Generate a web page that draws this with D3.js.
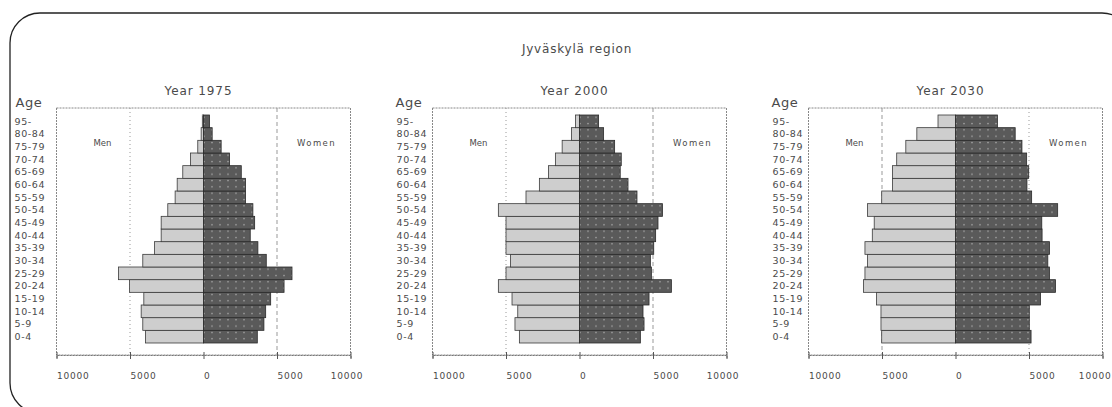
<!DOCTYPE html>
<html lang="en">
<head>
<meta charset="utf-8">
<title>Jyväskylä region</title>
<script src="https://d3js.org/d3.v7.min.js"></script>
<style>
body { margin: 0; background: #fff; }
text { font-family: "DejaVu Sans", sans-serif; fill: #4a4a4a; }
.agelab { font-size: 9.5px; letter-spacing: 0.6px; }
.tick text { font-size: 9px; letter-spacing: 0.8px; }
</style>
</head>
<body>
<div id="chart"></div>
<script>

// age groups, bottom to top
var ages = ["0-4", "5-9", "10-14", "15-19", "20-24", "25-29", "30-34", "35-39", "40-44",
            "45-49", "50-54", "55-59", "60-64", "65-69", "70-74", "75-79", "80-84", "95-"];

var years = ["1975", "2000", "2030"];

var men1975   = [3950, 4130, 4240, 4060, 5030, 5780, 4130, 3330, 2880, 2880, 2430, 1930, 1790, 1410, 890, 390, 160, 80];
var women1975 = [3660, 4110, 4230, 4570, 5480, 6020, 4270, 3700, 3180, 3480, 3360, 2860, 2860, 2570, 1770, 1200, 590, 410];

var men2000   = [4090, 4390, 4200, 4590, 5520, 5000, 4700, 5000, 5000, 5000, 5520, 3640, 2730, 2110, 1640, 1180, 550, 270];
var women2000 = [4140, 4390, 4320, 4730, 6250, 4890, 4820, 5050, 5180, 5340, 5640, 3910, 3300, 2770, 2840, 2390, 1640, 1300];

var men2030   = [5020, 5070, 5070, 5370, 6260, 6160, 5980, 6160, 5660, 5530, 5980, 5020, 4290, 4290, 4000, 3380, 2630, 1190];
var women2030 = [5140, 5020, 5020, 5780, 6800, 6390, 6280, 6390, 5890, 5870, 6950, 5180, 4860, 4980, 4840, 4520, 4060, 2850];

var tickVals = [-10000, -5000, 0, 5000, 10000];
var tickLabels = ["10000", "5000", "0", "5000", "10000"];

var panels = [
  {year: years[0], men: men1975, women: women1975, gridDash: ["1,3", "4,3"]},
  {year: years[1], men: men2000, women: women2000, gridDash: ["1,3", "4,3"]},
  {year: years[2], men: men2030, women: women2030, gridDash: ["4,3", "1,3"]}
];

var w = 1112, h = 407;
var svg = d3.select("#chart").append("svg")
            .attr("width", w)
            .attr("height", h);

// pattern for the women's bars: dark fill with light dots
var pat = svg.append("defs").append("pattern")
    .attr("id", "dots")
    .attr("patternUnits", "userSpaceOnUse")
    .attr("width", 8)
    .attr("height", 6.33);
pat.append("rect").attr("width", 8).attr("height", 6.33).attr("fill", "#5a5a5a");
pat.append("circle").attr("cx", 4).attr("cy", 3.2).attr("r", 0.8).attr("fill", "#a8a8a8");

// outer rounded frame (runs off the right and bottom edges)
svg.append("rect")
   .attr("x", 10).attr("y", 13)
   .attr("width", 1122).attr("height", 400)
   .attr("rx", 30)
   .attr("fill", "none")
   .attr("stroke", "#222")
   .attr("stroke-width", 1.3);

svg.append("text")
   .attr("x", 577).attr("y", 53)
   .attr("text-anchor", "middle")
   .style("font-size", "12px")
   .style("letter-spacing", "0.8px")
   .text("Jyväskylä region");

var plotTop = 108, plotBottom = 355, halfW = 147;

var y = d3.scaleBand()
          .domain(ages)
          .range([343, 115])
          .padding(0);

panels.forEach(function(p, i) {
  var cx = 203.5 + i * 376;
  var x = d3.scaleLinear()
            .domain([-10000, 10000])
            .range([cx - halfW, cx + halfW]);

  var g = svg.append("g");

  // year title
  g.append("text")
   .attr("x", cx - 5).attr("y", 95)
   .attr("text-anchor", "middle")
   .style("font-size", "12px")
   .style("letter-spacing", "0.9px")
   .text("Year " + p.year);

  // "Age" heading
  g.append("text")
   .attr("x", x(-10000) - (i == 0 ? 41 : 37)).attr("y", 107)
   .style("font-size", "13px")
   .style("letter-spacing", "0.5px")
   .text("Age");

  // plot frame
  g.append("rect")
   .attr("x", x(-10000)).attr("y", plotTop)
   .attr("width", x(10000) - x(-10000)).attr("height", plotBottom - plotTop)
   .attr("fill", "none")
   .attr("stroke", "#888")
   .attr("stroke-dasharray", "2,1");

  // grid lines at +-5000
  g.selectAll(".grid")
   .data([-5000, 5000])
   .enter().append("line")
   .attr("x1", d => x(d)).attr("x2", d => x(d))
   .attr("y1", plotTop).attr("y2", plotBottom)
   .attr("stroke", "#999")
   .attr("stroke-dasharray", (d, j) => p.gridDash[j]);

  // men bars (to the left)
  g.selectAll(".men")
   .data(ages)
   .enter().append("rect")
   .attr("x", (d, j) => x(-p.men[j]))
   .attr("y", d => y(d))
   .attr("width", (d, j) => x(0) - x(-p.men[j]))
   .attr("height", y.bandwidth())
   .attr("fill", "#cecece")
   .attr("stroke", "#3a3a3a")
   .attr("stroke-width", 0.8);

  // women bars (to the right)
  g.selectAll(".women")
   .data(ages)
   .enter().append("rect")
   .attr("x", x(0))
   .attr("y", d => y(d))
   .attr("width", (d, j) => x(p.women[j]) - x(0))
   .attr("height", y.bandwidth())
   .attr("fill", "url(#dots)")
   .attr("stroke", "#2a2a2a")
   .attr("stroke-width", 0.8);

  // age labels
  g.selectAll(".agelab")
   .data(ages)
   .enter().append("text")
   .attr("class", "agelab")
   .attr("x", x(-10000) - (i == 0 ? 42 : 36))
   .attr("y", d => y(d) + y.bandwidth() / 2)
   .attr("dy", "0.35em")
   .text(d => d);

  g.append("text")
   .attr("x", cx - 101).attr("y", 143).attr("dy", "0.35em")
   .attr("text-anchor", "middle")
   .style("font-size", "8.5px")
   .text("Men");

  g.append("text")
   .attr("x", cx + 113).attr("y", 143).attr("dy", "0.35em")
   .attr("text-anchor", "middle")
   .style("font-size", "8.5px")
   .style("letter-spacing", "1.4px")
   .text("Women");

  // x axis
  var axis = g.append("g")
    .attr("transform", "translate(0," + plotBottom + ")")
    .call(d3.axisBottom(x)
            .tickValues(tickVals)
            .tickFormat((d, j) => tickLabels[j])
            .tickSizeOuter(0)
            .tickSize(3));
  axis.select(".domain").attr("stroke", "#777").attr("stroke-dasharray", "2,1");
  axis.selectAll(".tick line").attr("y1", -3).attr("y2", 4).attr("stroke", "#555");
  axis.selectAll(".tick text")
      .attr("y", 21).attr("dy", "0.35em")
      .attr("text-anchor", (d, j) => j == tickVals.length - 1 ? "middle" : "start")
      .attr("x", (d, j) => j == tickVals.length - 1 ? -4 : 0)
      .style("fill", "#4a4a4a");

  // keep the last label inside the window
  axis.selectAll(".tick text").each(function(d) {
    var b = this.getBBox();
    var right = x(d) + b.x + b.width;
    if (right > w - 1) {
      d3.select(this).attr("x", +d3.select(this).attr("x") - (right - (w - 1)));
    }
  });
});

</script>
</body>
</html>
